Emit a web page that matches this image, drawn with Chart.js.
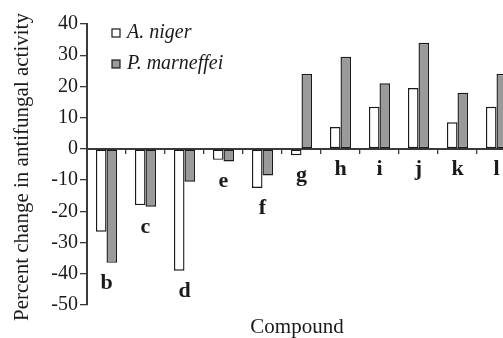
<!DOCTYPE html>
<html>
<head>
<meta charset="utf-8">
<script src="https://cdn.jsdelivr.net/npm/chart.js@4"></script>
<style>
html,body{margin:0;padding:0;background:#fff;overflow:hidden;}
#wrap{position:relative;width:520px;height:338px;}
</style>
</head>
<body>
<div id="wrap"><canvas id="c"></canvas></div>
<script>
const categories = ['b','c','d','e','f','g','h','i','j','k','l'];
const aNiger = [-26.5, -18, -39, -3.5, -12.5, -2, 7, 13.5, 19.5, 8.5, 13.5];
const pMarneffei = [-36.5, -18.5, -10.5, -4, -8.5, 24, 29.5, 21, 34, 18, 24];
const seriesNames = ['A. niger', 'P. marneffei'];
const yTitle = 'Percent change in antifungal activity';
const xTitle = 'Compound';

const INK = '#1a1a1a';
const AXIS = '#3a3a3a';
const SERIF = '"Liberation Serif", "Times New Roman", serif';

const overlay = {
  id: 'overlay',
  afterDatasetsDraw(chart) {
    const ctx = chart.ctx;
    const xs = chart.scales.x, ys = chart.scales.y;
    ctx.save();
    ctx.fillStyle = INK;
    // category labels below the bars
    ctx.font = 'bold 22px ' + SERIF;
    ctx.textAlign = 'center';
    ctx.textBaseline = 'alphabetic';
    categories.forEach((c, i) => {
      const lo = Math.min(0, aNiger[i], pMarneffei[i]);
      const y = ys.getPixelForValue(lo) + 26;
      ctx.fillText(c, xs.getPixelForValue(i), y);
    });
    // legend
    const items = [
      {name: seriesNames[0], fill: '#ffffff', y: 33},
      {name: seriesNames[1], fill: '#9a9a9a', y: 64}
    ];
    ctx.font = 'italic 20px ' + SERIF;
    ctx.textAlign = 'left';
    items.forEach(it => {
      ctx.fillStyle = it.fill;
      ctx.fillRect(112, it.y - 4, 8, 8);
      ctx.strokeStyle = INK;
      ctx.lineWidth = 1.2;
      ctx.strokeRect(112, it.y - 4, 8, 8);
      ctx.fillStyle = INK;
      ctx.textBaseline = 'alphabetic';
      ctx.fillText(it.name, 127, it.y + 5);
    });
    // axis titles
    ctx.font = '21px ' + SERIF;
    ctx.textAlign = 'center';
    ctx.fillText(xTitle, 297, 333);
    ctx.translate(28, 167);
    ctx.rotate(-Math.PI / 2);
    ctx.fillText(yTitle, 0, 0);
    ctx.restore();
  }
};

new Chart(document.getElementById('c'), {
  type: 'bar',
  data: {
    labels: categories,
    datasets: [
      {label: seriesNames[0], data: aNiger, backgroundColor: '#ffffff', borderColor: INK, borderWidth: 1.4, borderSkipped: false},
      {label: seriesNames[1], data: pMarneffei, backgroundColor: '#9a9a9a', borderColor: INK, borderWidth: 1.4, borderSkipped: false}
    ]
  },
  options: {
    responsive: true,
    maintainAspectRatio: false,
    animation: false,
    events: [],
    layout: {padding: {left: 0, top: 24, right: 4, bottom: 33}},
    datasets: {bar: {categoryPercentage: 0.54, barPercentage: 1}},
    plugins: {legend: {display: false}, tooltip: {enabled: false}},
    scales: {
      x: {
        type: 'category',
        position: {y: 0},
        offset: true,
        ticks: {display: false},
        grid: {offset: true, drawOnChartArea: false, tickLength: 4, color: AXIS, lineWidth: 1.3},
        border: {display: true, color: AXIS, width: 2}
      },
      y: {
        min: -50, max: 40,
        afterFit(s) { s.width = 87; },
        ticks: {stepSize: 10, color: INK, padding: 2, font: {family: SERIF, size: 20}},
        grid: {drawOnChartArea: false, tickLength: 7, color: AXIS, lineWidth: 1.3},
        border: {display: true, color: AXIS, width: 2}
      }
    }
  },
  plugins: [overlay]
});
</script>
</body>
</html>
